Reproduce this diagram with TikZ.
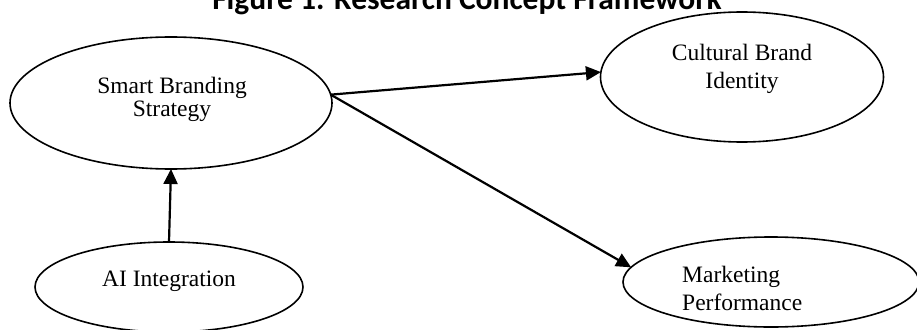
\documentclass[tikz,border=0pt]{standalone}
\usepackage{fontspec}
\setmainfont{Liberation Serif}
\newfontfamily\titlefont{Carlito}
\usetikzlibrary{arrows.meta, shapes.geometric}

\tikzset{
  construct/.style={ellipse, draw, line width=1.6pt, inner sep=0pt, outer sep=0pt},
  lbl/.style={font=\fontsize{23.5}{23}\selectfont, align=center, inner sep=0pt},
  link/.style={->, line width=2.2pt}
}

\begin{document}
\begin{tikzpicture}[x=1pt, y=-1pt, >={Triangle[length=15pt, width=14pt]}]
  \useasboundingbox (0,0) rectangle (917,329);

  % title (cut off at the top)
  \node (title) [anchor=base, inner sep=0pt, font=\titlefont\bfseries\fontsize{31.5}{36}\selectfont]
    at (467,9.5) {Figure 1. Research Concept Framework};

  % constructs
  \node (sbs) [construct, minimum width=322pt, minimum height=132pt] at (171,103) {};
  \node (cbi) [construct, minimum width=283pt, minimum height=130pt] at (742,77) {};
  \node (ai)  [construct, minimum width=268pt, minimum height=90pt]  at (169,287) {};
  \node (mp)  [construct, minimum width=296pt, minimum height=90pt]  at (771,282) {};

  % labels (anchor base = last line)
  \node (sbstext) [lbl, anchor=base] at (172,116) {Smart Branding\\Strategy};
  \node (cbitext) [lbl, anchor=base] at (742,88) {Cultural Brand\\[5pt]Identity};
  \node (aitext)  [lbl, anchor=base] at (169,286.5) {AI Integration};
  \node (mptext)  [lbl, anchor=base west, align=left] at (682,310) {Marketing\\[5pt]Performance};

  % paths
  \draw[link] (ai.north) -- (sbs.south);
  \draw[link] (sbs.3.5) -- (cbi.178);
  \draw[link] (sbs.3.5) -- (mp.174);
\end{tikzpicture}
\end{document}
